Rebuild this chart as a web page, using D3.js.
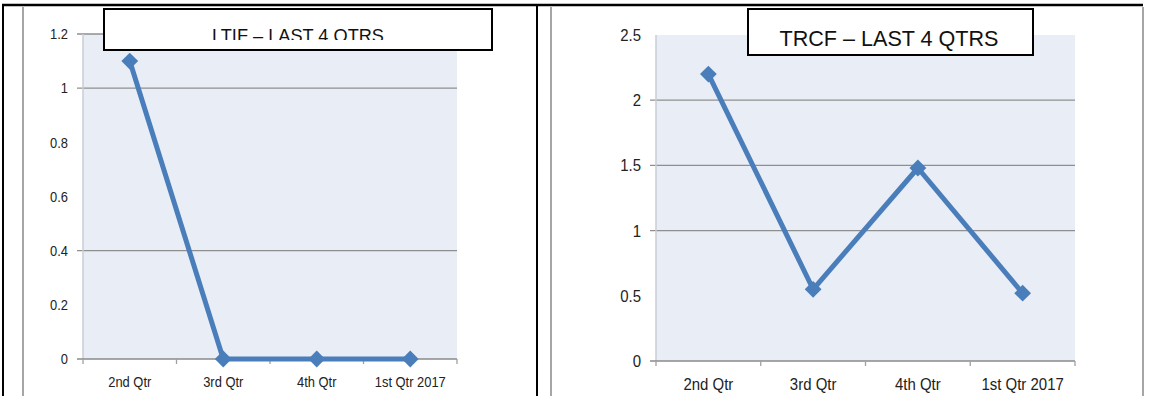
<!DOCTYPE html>
<html>
<head>
<meta charset="utf-8">
<script src="https://cdn.jsdelivr.net/npm/d3@7"></script>
<style>
  html, body { margin: 0; padding: 0; background: #fff; }
  svg { display: block; }
</style>
</head>
<body>
<svg id="chart" width="1158" height="396"></svg>
<script>
// ---- data ----
const categories = ["2nd Qtr", "3rd Qtr", "4th Qtr", "1st Qtr 2017"];
const ltifValues = [1.1, 0, 0, 0];
const trcfValues = [2.2, 0.55, 1.48, 0.52];
const ltifTicks = [0, 0.2, 0.4, 0.6, 0.8, 1, 1.2];
const trcfTicks = [0, 0.5, 1, 1.5, 2, 2.5];
const ltifGridValues = [0.4, 1, 1.2];
const trcfGridValues = [1, 1.5, 2];
const ltifTitle = "LTIF – LAST 4 QTRS";
const trcfTitle = "TRCF – LAST 4 QTRS";

// ---- layout / style ----
const svg = d3.select("#chart");
const lineColor = "#4a7ebb";
const plotFill = "#e9edf5";
const gridColor = "#8f8f8f";
const font = "'Liberation Sans', Arial, sans-serif";

// squeeze text horizontally (condensed look)
function condense(sel, factor) {
  sel.each(function () {
    const w = this.getComputedTextLength();
    d3.select(this).attr("textLength", w * factor).attr("lengthAdjust", "spacingAndGlyphs");
  });
}

// outer frame
svg.append("line").attr("x1", 2).attr("x2", 1143).attr("y1", 5).attr("y2", 5)
  .attr("stroke", "#000").attr("stroke-width", 2.5);
svg.append("line").attr("x1", 3).attr("x2", 3).attr("y1", 4).attr("y2", 396)
  .attr("stroke", "#000").attr("stroke-width", 2);
svg.append("line").attr("x1", 537).attr("x2", 537).attr("y1", 4).attr("y2", 396)
  .attr("stroke", "#000").attr("stroke-width", 2);
[23, 551, 1143].forEach(x => {
  svg.append("line").attr("x1", x).attr("x2", x).attr("y1", 7).attr("y2", 396)
    .attr("stroke", "#a6a6a6").attr("stroke-width", 2);
});

function drawChart(cfg) {
  const g = svg.append("g");
  const y = d3.scaleLinear().domain(cfg.domain).range([cfg.bottom, cfg.top]);
  const x = d3.scaleBand().domain(categories).range([cfg.left, cfg.right]);

  g.append("rect")
    .attr("x", cfg.left).attr("y", cfg.top)
    .attr("width", cfg.right - cfg.left).attr("height", cfg.bottom - cfg.top)
    .attr("fill", plotFill);

  g.selectAll(".grid").data(cfg.grid).enter().append("line")
    .attr("x1", cfg.left - 6).attr("x2", cfg.right)
    .attr("y1", d => y(d)).attr("y2", d => y(d))
    .attr("stroke", gridColor).attr("stroke-width", 1.3);

  g.append("line").attr("x1", cfg.left).attr("x2", cfg.left)
    .attr("y1", cfg.top).attr("y2", cfg.bottom)
    .attr("stroke", "#c8ccd4").attr("stroke-width", 1.5);

  const yAxis = g.append("g")
    .attr("transform", `translate(${cfg.left},0)`)
    .call(d3.axisLeft(y).tickValues(cfg.ticks).tickSize(0).tickPadding(cfg.left - cfg.labelRight)
      .tickFormat(d => String(d)));
  yAxis.select(".domain").remove();
  yAxis.selectAll("text").attr("font-family", font).attr("font-size", cfg.fontSize).attr("fill", "#222")
    .call(condense, cfg.squeeze);

  g.append("line").attr("x1", cfg.left - 6).attr("x2", cfg.right)
    .attr("y1", cfg.bottom).attr("y2", cfg.bottom)
    .attr("stroke", "#8a8a8a").attr("stroke-width", 1.3);
  const bounds = categories.map(c => x(c)).concat([cfg.right]);
  g.selectAll(".xt").data(bounds).enter().append("line")
    .attr("x1", d => d).attr("x2", d => d)
    .attr("y1", cfg.bottom).attr("y2", cfg.bottom + 5)
    .attr("stroke", "#a0a0a0").attr("stroke-width", 1.3);

  const xAxis = g.append("g")
    .attr("transform", `translate(0,${cfg.bottom})`)
    .call(d3.axisBottom(x).tickSize(0).tickPadding(cfg.xPad));
  xAxis.select(".domain").remove();
  xAxis.selectAll("text").attr("font-family", font).attr("font-size", cfg.fontSize).attr("fill", "#222")
    .call(condense, cfg.squeeze);

  const pts = categories.map((c, i) => [x(c) + x.bandwidth() / 2, y(cfg.values[i])]);
  g.append("path")
    .attr("d", d3.line()(pts))
    .attr("fill", "none").attr("stroke", lineColor).attr("stroke-width", 5)
    .attr("stroke-linejoin", "round");
  const sym = d3.symbol().type(d3.symbolDiamond2).size(180);
  g.selectAll(".mk").data(pts).enter().append("path")
    .attr("d", sym)
    .attr("transform", d => `translate(${d[0]},${d[1]})`)
    .attr("fill", lineColor);

  g.append("rect")
    .attr("x", cfg.box[0]).attr("y", cfg.box[1])
    .attr("width", cfg.box[2] - cfg.box[0]).attr("height", cfg.box[3] - cfg.box[1])
    .attr("fill", "#fff").attr("stroke", "#000").attr("stroke-width", 2);
  const clipId = "clip" + cfg.id;
  svg.append("clipPath").attr("id", clipId).append("rect")
    .attr("x", cfg.box[0]).attr("y", cfg.box[1])
    .attr("width", cfg.box[2] - cfg.box[0]).attr("height", cfg.titleClip - cfg.box[1]);
  g.append("text")
    .attr("x", cfg.titleX).attr("y", cfg.titleY)
    .attr("text-anchor", "middle")
    .attr("font-family", font).attr("font-size", cfg.titleSize)
    .attr("textLength", cfg.titleWidth).attr("lengthAdjust", "spacingAndGlyphs")
    .attr("fill", "#111")
    .attr("clip-path", `url(#${clipId})`)
    .text(cfg.title);
}

drawChart({
  id: "ltif", values: ltifValues, ticks: ltifTicks, grid: ltifGridValues, domain: [0, 1.2],
  left: 83, right: 457, top: 34, bottom: 359, labelRight: 68, fontSize: 15, squeeze: 0.86, xPad: 17,
  box: [104, 9, 492, 50], title: ltifTitle, titleX: 298, titleY: 42, titleSize: 19,
  titleWidth: 172, titleClip: 40
});

drawChart({
  id: "trcf", values: trcfValues, ticks: trcfTicks, grid: trcfGridValues, domain: [0, 2.5],
  left: 656, right: 1075, top: 35, bottom: 361, labelRight: 641, fontSize: 17, squeeze: 0.88, xPad: 17,
  box: [748, 9, 1033, 55], title: trcfTitle, titleX: 889, titleY: 46, titleSize: 22,
  titleWidth: 219, titleClip: 55
});
</script>
</body>
</html>
